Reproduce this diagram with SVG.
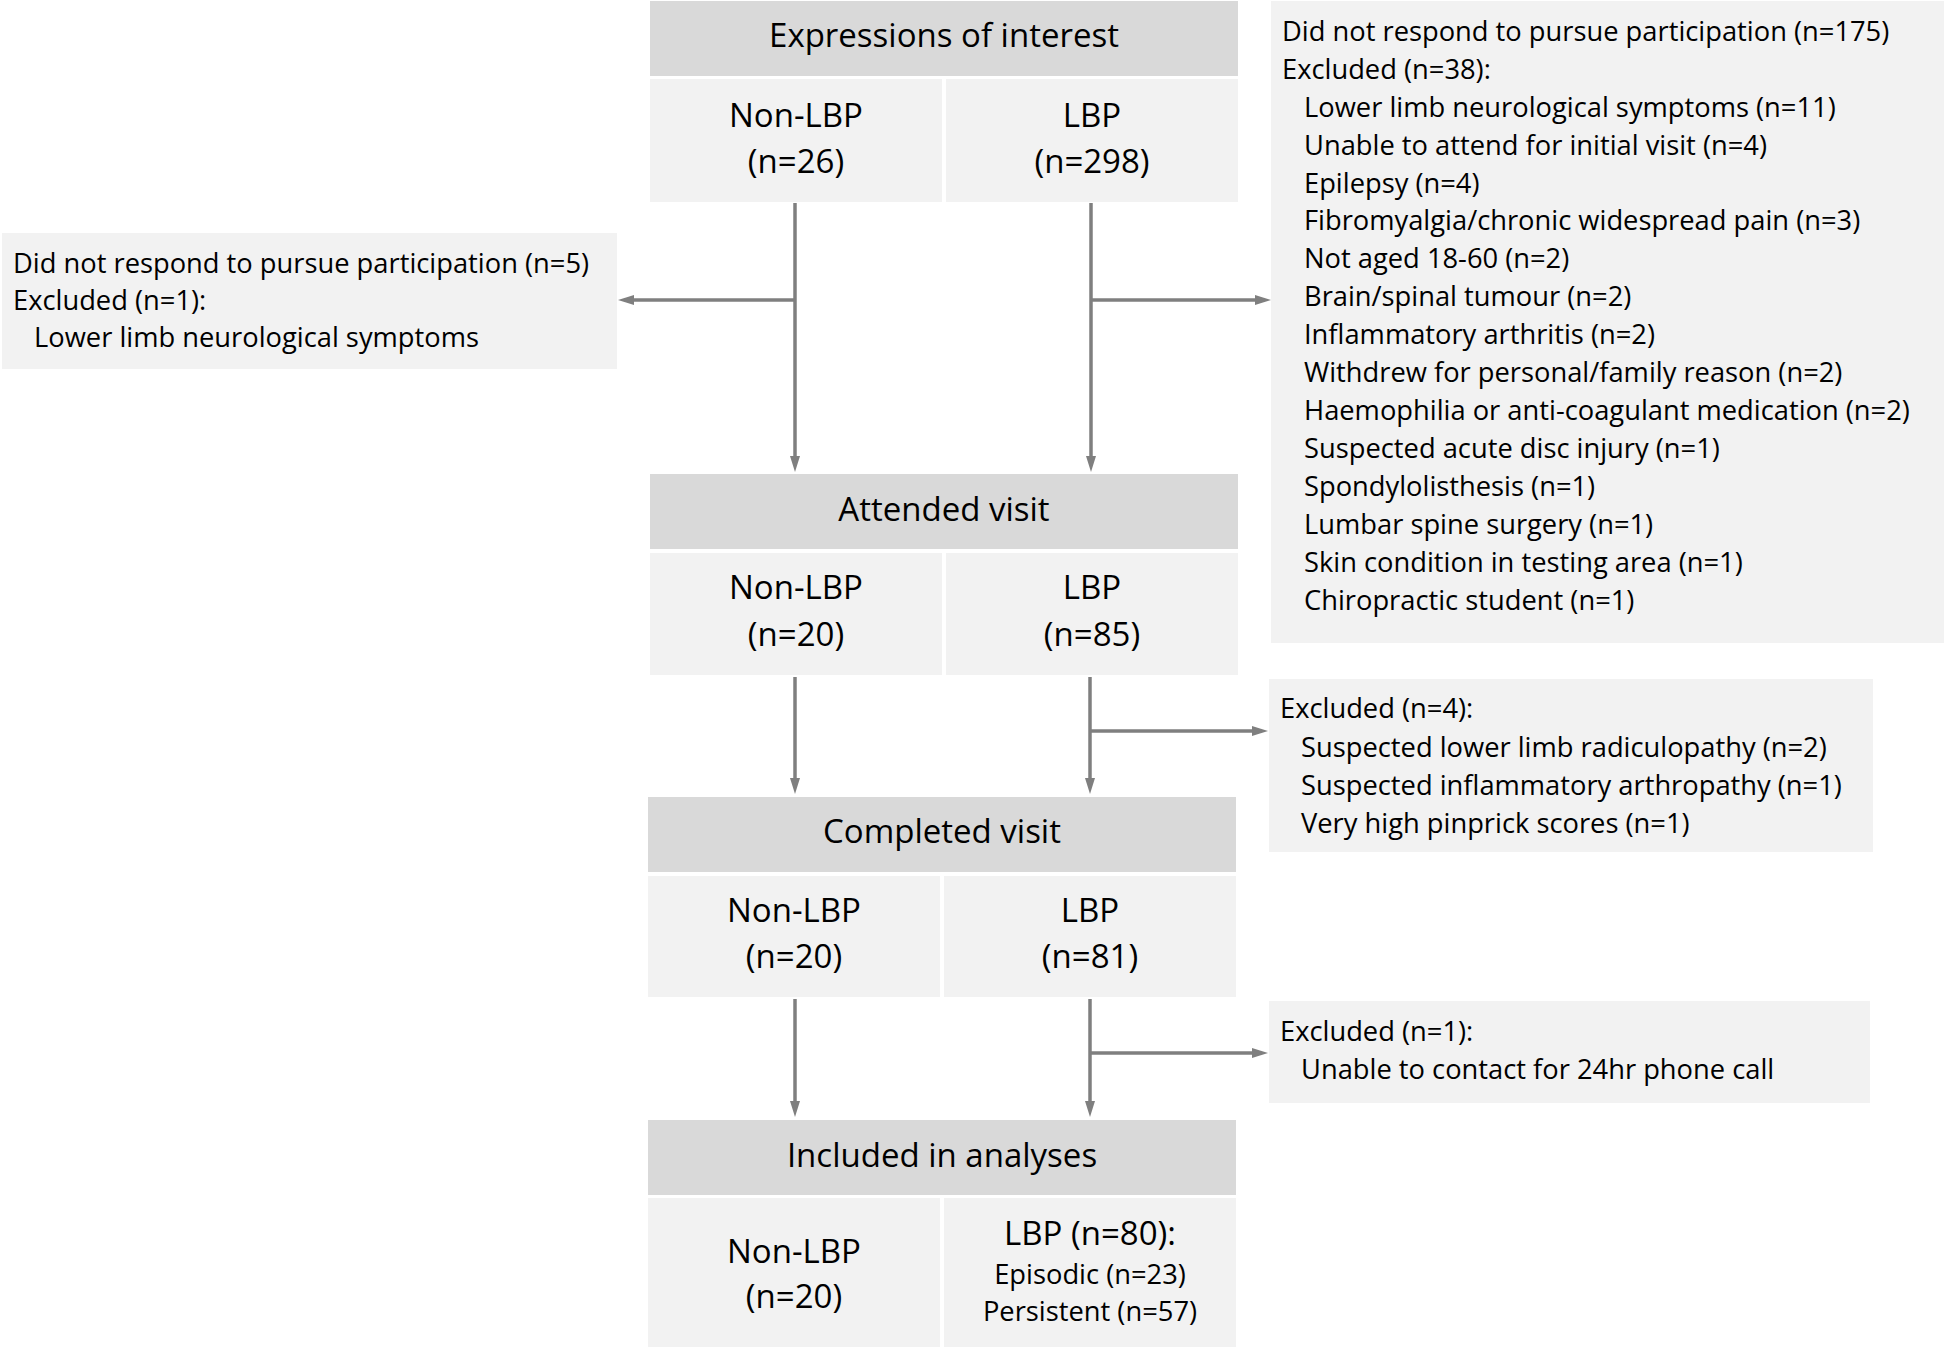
<svg xmlns="http://www.w3.org/2000/svg" width="1946" height="1349" viewBox="0 0 1946 1349">
<style>
.hdr{fill:#d9d9d9}
.sub{fill:#f2f2f2}
.t{font-family:"Open Sans","Liberation Sans",sans-serif;fill:#000}
.big{font-size:33px;text-anchor:middle}
.sm{font-size:27.3px}
.mid{text-anchor:middle}
.conn{stroke:#7f7f7f;stroke-width:3.5;fill:none}
</style>
<defs>
<marker id="ah" viewBox="0 0 16 10" refX="6" refY="5" markerWidth="16" markerHeight="10" markerUnits="userSpaceOnUse" orient="auto">
<path d="M0,0 L16,5 L0,10 z" fill="#7f7f7f"/>
</marker>
</defs>
<rect width="1946" height="1349" fill="#fff"/>

<g id="connectors">
<path class="conn" d="M795,203 V462" marker-end="url(#ah)"/>
<path class="conn" d="M1091,203 V462" marker-end="url(#ah)"/>
<path class="conn" d="M795,300 H628" marker-end="url(#ah)"/>
<path class="conn" d="M1091,300 H1261" marker-end="url(#ah)"/>
<path class="conn" d="M795,677 V784" marker-end="url(#ah)"/>
<path class="conn" d="M1090,677 V784" marker-end="url(#ah)"/>
<path class="conn" d="M1090,731 H1258" marker-end="url(#ah)"/>
<path class="conn" d="M795,999 V1107" marker-end="url(#ah)"/>
<path class="conn" d="M1090,999 V1107" marker-end="url(#ah)"/>
<path class="conn" d="M1090,1053 H1258" marker-end="url(#ah)"/>
</g>

<g id="expressions-header">
<rect class="hdr" x="650" y="1" width="588" height="75"/>
<text class="t big" x="944" y="47">Expressions of interest</text>
</g>
<g id="expressions-nonlbp">
<rect class="sub" x="650" y="79" width="292" height="123"/>
<text class="t big" x="796" y="127">Non-LBP</text>
<text class="t big" x="796" y="173">(n=26)</text>
</g>
<g id="expressions-lbp">
<rect class="sub" x="946" y="79" width="292" height="123"/>
<text class="t big" x="1092" y="127">LBP</text>
<text class="t big" x="1092" y="173">(n=298)</text>
</g>

<g id="excluded-left">
<rect class="sub" x="2" y="233" width="615" height="136"/>
<text class="t sm" x="13" y="273">Did not respond to pursue participation (n=5)</text>
<text class="t sm" x="13" y="310">Excluded (n=1):</text>
<text class="t sm" x="34" y="347">Lower limb neurological symptoms</text>
</g>

<g id="excluded-right">
<rect class="sub" x="1271" y="1" width="673" height="642"/>
<text class="t sm" x="1282" y="41">Did not respond to pursue participation (n=175)</text>
<text class="t sm" x="1282" y="79">Excluded (n=38):</text>
<text class="t sm" x="1304" y="117">Lower limb neurological symptoms (n=11)</text>
<text class="t sm" x="1304" y="155">Unable to attend for initial visit (n=4)</text>
<text class="t sm" x="1304" y="193">Epilepsy (n=4)</text>
<text class="t sm" x="1304" y="230">Fibromyalgia/chronic widespread pain (n=3)</text>
<text class="t sm" x="1304" y="268">Not aged 18-60 (n=2)</text>
<text class="t sm" x="1304" y="306">Brain/spinal tumour (n=2)</text>
<text class="t sm" x="1304" y="344">Inflammatory arthritis (n=2)</text>
<text class="t sm" x="1304" y="382">Withdrew for personal/family reason (n=2)</text>
<text class="t sm" x="1304" y="420">Haemophilia or anti-coagulant medication (n=2)</text>
<text class="t sm" x="1304" y="458">Suspected acute disc injury (n=1)</text>
<text class="t sm" x="1304" y="496">Spondylolisthesis (n=1)</text>
<text class="t sm" x="1304" y="534">Lumbar spine surgery (n=1)</text>
<text class="t sm" x="1304" y="572">Skin condition in testing area (n=1)</text>
<text class="t sm" x="1304" y="610">Chiropractic student (n=1)</text>
</g>

<g id="attended-header">
<rect class="hdr" x="650" y="474" width="588" height="75"/>
<text class="t big" x="944" y="521">Attended visit</text>
</g>
<g id="attended-nonlbp">
<rect class="sub" x="650" y="553" width="292" height="122"/>
<text class="t big" x="796" y="599">Non-LBP</text>
<text class="t big" x="796" y="646">(n=20)</text>
</g>
<g id="attended-lbp">
<rect class="sub" x="946" y="553" width="292" height="122"/>
<text class="t big" x="1092" y="599">LBP</text>
<text class="t big" x="1092" y="646">(n=85)</text>
</g>

<g id="excluded-4">
<rect class="sub" x="1269" y="679" width="604" height="173"/>
<text class="t sm" x="1280" y="718">Excluded (n=4):</text>
<text class="t sm" x="1301" y="757">Suspected lower limb radiculopathy (n=2)</text>
<text class="t sm" x="1301" y="795">Suspected inflammatory arthropathy (n=1)</text>
<text class="t sm" x="1301" y="833">Very high pinprick scores (n=1)</text>
</g>

<g id="completed-header">
<rect class="hdr" x="648" y="797" width="588" height="75"/>
<text class="t big" x="942" y="843">Completed visit</text>
</g>
<g id="completed-nonlbp">
<rect class="sub" x="648" y="876" width="292" height="121"/>
<text class="t big" x="794" y="922">Non-LBP</text>
<text class="t big" x="794" y="968">(n=20)</text>
</g>
<g id="completed-lbp">
<rect class="sub" x="944" y="876" width="292" height="121"/>
<text class="t big" x="1090" y="922">LBP</text>
<text class="t big" x="1090" y="968">(n=81)</text>
</g>

<g id="excluded-1">
<rect class="sub" x="1269" y="1001" width="601" height="102"/>
<text class="t sm" x="1280" y="1041">Excluded (n=1):</text>
<text class="t sm" x="1301" y="1079">Unable to contact for 24hr phone call</text>
</g>

<g id="included-header">
<rect class="hdr" x="648" y="1120" width="588" height="75"/>
<text class="t big" x="942" y="1167">Included in analyses</text>
</g>
<g id="included-nonlbp">
<rect class="sub" x="648" y="1198" width="292" height="149"/>
<text class="t big" x="794" y="1263">Non-LBP</text>
<text class="t big" x="794" y="1308">(n=20)</text>
</g>
<g id="included-lbp">
<rect class="sub" x="944" y="1198" width="292" height="149"/>
<text class="t big" x="1090" y="1245">LBP (n=80):</text>
<text class="t sm mid" x="1090" y="1284">Episodic (n=23)</text>
<text class="t sm mid" x="1090" y="1321">Persistent (n=57)</text>
</g>
</svg>
